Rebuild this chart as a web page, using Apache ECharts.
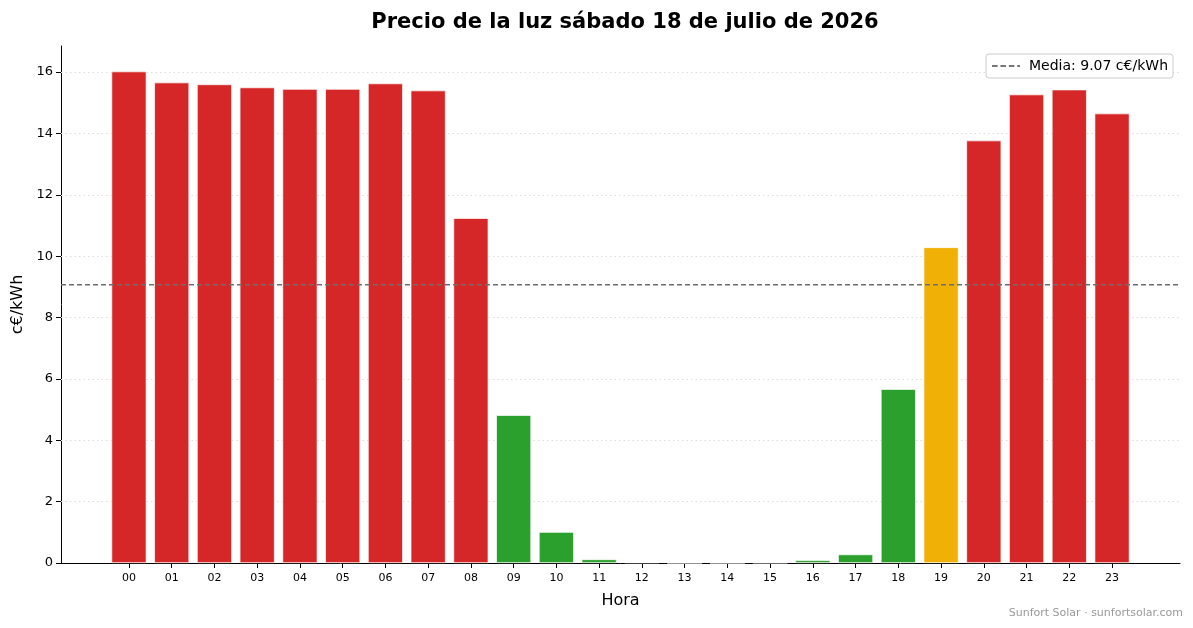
<!DOCTYPE html>
<html style="height: 100%">
<head>
<meta charset="utf-8">
<script src="https://cdn.jsdelivr.net/npm/echarts@6/dist/echarts.min.js"></script>
</head>
<body style="height: 100%; margin: 0; background: #fff">
<div id="container" style="width: 1193px; height: 628px"></div>
<script type="text/javascript">
// hourly price, c€/kWh
var horas = ['00','01','02','03','04','05','06','07','08','09','10','11',
             '12','13','14','15','16','17','18','19','20','21','22','23'];
var precios = [16.02, 15.66, 15.60, 15.50, 15.45, 15.45, 15.63, 15.40, 11.24, 4.82, 1.01, 0.12,
               0.02, 0.00, 0.00, 0.01, 0.09, 0.28, 5.67, 10.29, 13.77, 15.27, 15.43, 14.65];
// colour class per hour: g = cheap, o = mid, r = expensive
var clases = ['r','r','r','r','r','r','r','r','r','g','g','g',
              'g','g','g','g','g','g','g','o','r','r','r','r'];
var media = 9.07;
var yTicks = [0, 2, 4, 6, 8, 10, 12, 14, 16];

var colores = { r: '#d62728', g: '#2ca02c', o: '#f0b005' };
var xMin = -1.59, xMax = 24.59;

var dom = document.getElementById('container');
var myChart = echarts.init(dom);

var barData = precios.map(function (v, i) {
    return { value: [i, v], itemStyle: { color: colores[clases[i]] } };
});
var tickIdx = horas.map(function (h, i) { return i; });

// dashed line for the legend entry
var dashIcon = 'path://M0,0h6v2h-6z M9,0h6v2h-6z M18,0h6v2h-6z M27,0h3v2h-3z';

var option = {
    backgroundColor: '#fff',
    animation: false,
    textStyle: { fontFamily: 'DejaVu Sans' },
    title: {
        text: 'Precio de la luz sábado 18 de julio de 2026',
        left: 620, top: 7, textAlign: 'center',
        textStyle: { fontSize: 21, fontWeight: 'bold', color: '#000', fontFamily: 'DejaVu Sans' }
    },
    grid: { left: 61, right: 13, top: 46, bottom: 65 },
    legend: {
        right: 20, top: 54,
        backgroundColor: '#fff', borderColor: '#ccc', borderWidth: 1, borderRadius: 3,
        padding: [5, 5, 5, 6],
        itemWidth: 28, itemHeight: 2, itemGap: 6,
        textStyle: { fontSize: 14, color: '#000', fontFamily: 'DejaVu Sans', padding: [0, 0, 0, 4] },
        data: [{ name: 'Media: 9.07 c€/kWh', icon: dashIcon, itemStyle: { color: '#777' } }]
    },
    xAxis: {
        type: 'value', min: xMin, max: xMax,
        name: 'Hora', nameLocation: 'middle', nameGap: 30,
        nameTextStyle: { fontSize: 16, color: '#000' },
        axisLine: { show: true, onZero: false, lineStyle: { color: '#000', width: 1 } },
        axisTick: { show: true, length: 5, lineStyle: { color: '#000' }, customValues: tickIdx },
        axisLabel: {
            fontSize: 11, color: '#000', margin: 10, customValues: tickIdx,
            formatter: function (v) { return horas[Math.round(v)]; }
        },
        splitLine: { show: false }
    },
    yAxis: {
        type: 'value', min: 0, max: 16.85,
        name: 'c€/kWh', nameLocation: 'middle', nameGap: 35, nameRotate: 90,
        nameTextStyle: { fontSize: 16, color: '#000' },
        axisLine: { show: true, onZero: false, lineStyle: { color: '#000', width: 1 } },
        axisTick: { show: true, length: 5, lineStyle: { color: '#000' }, customValues: yTicks },
        axisLabel: { fontSize: 13, color: '#000', margin: 8, customValues: yTicks },
        splitLine: { show: false }
    },
    series: [{
        // holder for the dotted horizontal grid, drawn under the bars
        type: 'line',
        name: 'grid',
        data: [],
        z: 1,
        markLine: {
            z: 1,
            silent: true, symbol: 'none', label: { show: false },
            lineStyle: { color: '#dddddd', type: [1.5, 3], width: 1 },
            data: yTicks.slice(1).map(function (t) { return { yAxis: t }; })
        }
    }, {
        type: 'bar',
        name: 'precio',
        data: barData,
        barWidth: 35,
        itemStyle: { borderColor: '#fff', borderWidth: 0.7 },
        z: 3
    }, {
        type: 'line',
        name: 'Media: 9.07 c€/kWh',
        data: [[xMin, media], [xMax, media]],
        symbol: 'none',
        lineStyle: { color: '#6e6e6e', type: [5, 3], width: 1.5 },
        itemStyle: { color: '#6e6e6e' },
        z: 5
    }],
    graphic: [{
        type: 'text', right: 10, top: 608,
        style: { text: 'Sunfort Solar · sunfortsolar.com', fontSize: 11, fill: '#999', fontFamily: 'DejaVu Sans' }
    }]
};
myChart.setOption(option);
</script>
</body>
</html>
